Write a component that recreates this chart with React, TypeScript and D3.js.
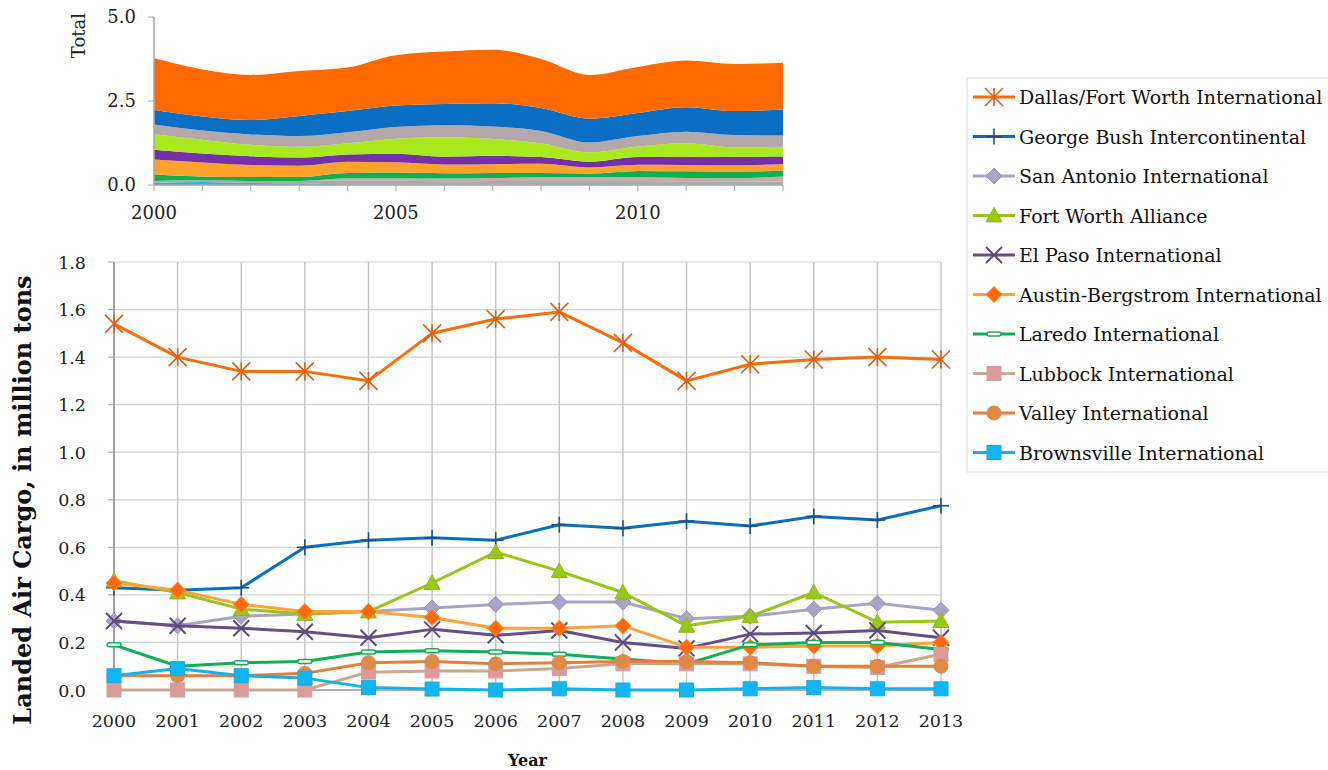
import * as d3 from 'd3'
import { FC, useMemo } from 'react'

const YEARS = [2000, 2001, 2002, 2003, 2004, 2005, 2006, 2007, 2008, 2009, 2010, 2011, 2012, 2013]

const AIRPORTS = [
  'Dallas/Fort Worth International',
  'George Bush Intercontinental',
  'San Antonio International',
  'Fort Worth Alliance',
  'El Paso International',
  'Austin-Bergstrom International',
  'Laredo International',
  'Lubbock International',
  'Valley International',
  'Brownsville International',
]

// landed cargo, million tons
const DFW = [1.54, 1.40, 1.34, 1.34, 1.30, 1.50, 1.56, 1.59, 1.46, 1.30, 1.37, 1.39, 1.40, 1.39]
const IAH = [0.43, 0.42, 0.43, 0.60, 0.63, 0.64, 0.63, 0.695, 0.68, 0.71, 0.69, 0.73, 0.715, 0.775]
const SAT = [0.29, 0.27, 0.31, 0.32, 0.33, 0.345, 0.36, 0.37, 0.37, 0.30, 0.31, 0.34, 0.365, 0.335]
const AFW = [0.46, 0.41, 0.34, 0.32, 0.33, 0.45, 0.58, 0.50, 0.41, 0.27, 0.31, 0.41, 0.285, 0.29]
const ELP = [0.29, 0.27, 0.26, 0.245, 0.22, 0.255, 0.23, 0.25, 0.20, 0.175, 0.235, 0.24, 0.25, 0.22]
const AUS = [0.45, 0.42, 0.36, 0.33, 0.33, 0.305, 0.26, 0.26, 0.27, 0.18, 0.18, 0.185, 0.185, 0.20]
const LRD = [0.19, 0.10, 0.115, 0.12, 0.16, 0.165, 0.16, 0.15, 0.13, 0.11, 0.19, 0.20, 0.20, 0.17]
const LBB = [0.0, 0.0, 0.0, 0.0, 0.075, 0.08, 0.08, 0.09, 0.11, 0.11, 0.11, 0.10, 0.095, 0.15]
const HRL = [0.06, 0.06, 0.06, 0.07, 0.115, 0.12, 0.11, 0.115, 0.12, 0.12, 0.115, 0.10, 0.10, 0.10]
const BRO = [0.06, 0.09, 0.06, 0.05, 0.01, 0.004, 0.0, 0.005, 0.0, 0.0, 0.005, 0.01, 0.005, 0.005]

const SERIES_VALUES = [DFW, IAH, SAT, AFW, ELP, AUS, LRD, LBB, HRL, BRO]

const Y_TICKS = [0, 0.2, 0.4, 0.6, 0.8, 1.0, 1.2, 1.4, 1.6, 1.8]
const TOTAL_TICKS = [0, 2.5, 5]
const TOTAL_YEAR_LABELS = [2000, 2005, 2010]

type Marker = 'asterisk' | 'plus' | 'diamond' | 'triangle' | 'x' | 'dash' | 'square' | 'circle'

const STYLES: { line: string; fill: string; stroke: string; marker: Marker; size: number; area: string }[] = [
  { line: '#ff6a0a', fill: 'none', stroke: '#d8601a', marker: 'asterisk', size: 9, area: '#ff6a00' },
  { line: '#0b6fc0', fill: 'none', stroke: '#1a4f8a', marker: 'plus', size: 8, area: '#0a6fc2' },
  { line: '#aaa4c4', fill: '#aaa4c4', stroke: '#9a94b6', marker: 'diamond', size: 8, area: '#b5a8a8' },
  { line: '#99c41a', fill: '#9ac81a', stroke: '#8ab616', marker: 'triangle', size: 8, area: '#aaea1c' },
  { line: '#654f86', fill: 'none', stroke: '#604a7b', marker: 'x', size: 8, area: '#7530a8' },
  { line: '#ffa338', fill: '#ff6a0a', stroke: '#ff8a20', marker: 'diamond', size: 8, area: '#ffa22c' },
  { line: '#12ae56', fill: '#ffffff', stroke: '#12ae56', marker: 'dash', size: 7, area: '#0db050' },
  { line: '#c9a88c', fill: '#dc9a9c', stroke: '#cfa39a', marker: 'square', size: 7, area: '#c8aaa6' },
  { line: '#e27f3a', fill: '#e08a48', stroke: '#d98a50', marker: 'circle', size: 7, area: '#a9aab0' },
  { line: '#12b2ee', fill: '#12b6f2', stroke: '#1aa8e0', marker: 'square', size: 7, area: '#20b4ee' },
]

const FONT = '"DejaVu Serif", "Liberation Serif", serif'

const MAIN = { left: 114, right: 941, top: 262, bottom: 690 }
const TOP = { left: 154, right: 783, top: 17, bottom: 185 }

const MarkerShape: FC<{ kind: Marker; x: number; y: number; s: number; fill: string; stroke: string }> = ({
  kind, x, y, s, fill, stroke,
}) => {
  if (kind === 'asterisk') {
    return (
      <g stroke={ stroke } strokeWidth={ 1.6 }>
        <line x1={ x - s } y1={ y - s } x2={ x + s } y2={ y + s } />
        <line x1={ x - s } y1={ y + s } x2={ x + s } y2={ y - s } />
        <line x1={ x } y1={ y - s } x2={ x } y2={ y + s } />
      </g>
    )
  }
  if (kind === 'plus') {
    return (
      <g stroke={ stroke } strokeWidth={ 1.6 }>
        <line x1={ x } y1={ y - s } x2={ x } y2={ y + s } />
        <line x1={ x - s } y1={ y } x2={ x + s } y2={ y } />
      </g>
    )
  }
  if (kind === 'x') {
    return (
      <g stroke={ stroke } strokeWidth={ 2 }>
        <line x1={ x - s } y1={ y - s } x2={ x + s } y2={ y + s } />
        <line x1={ x - s } y1={ y + s } x2={ x + s } y2={ y - s } />
      </g>
    )
  }
  if (kind === 'diamond') {
    return (
      <path
        d={ `M${x},${y - s}L${x + s},${y}L${x},${y + s}L${x - s},${y}Z` }
        fill={ fill } stroke={ stroke } strokeWidth={ 1 }
      />
    )
  }
  if (kind === 'triangle') {
    return (
      <path
        d={ `M${x},${y - s}L${x + s},${y + s * 0.8}L${x - s},${y + s * 0.8}Z` }
        fill={ fill } stroke={ stroke } strokeWidth={ 1 }
      />
    )
  }
  if (kind === 'dash') {
    return (
      <rect x={ x - s } y={ y - 2 } width={ s * 2 } height={ 4 } rx={ 2 }
        fill={ fill } stroke={ stroke } strokeWidth={ 1.5 } />
    )
  }
  if (kind === 'square') {
    return (
      <rect x={ x - s } y={ y - s } width={ s * 2 } height={ s * 2 }
        fill={ fill } stroke={ stroke } strokeWidth={ 1 } />
    )
  }
  return <circle cx={ x } cy={ y } r={ s } fill={ fill } stroke={ stroke } strokeWidth={ 1 } />
}

const App: FC = () => {
  const xScale = useMemo(
    () => d3.scaleLinear().domain([2000, 2013]).range([MAIN.left, MAIN.right]),
    []
  )
  const yScale = useMemo(
    () => d3.scaleLinear().domain([0, 1.8]).range([MAIN.bottom, MAIN.top]),
    []
  )
  const xTop = d3.scaleLinear().domain([2000, 2013]).range([TOP.left, TOP.right])
  const yTop = d3.scaleLinear().domain([0, 5]).range([TOP.bottom, TOP.top])

  // stacked total, bottom layer is the last airport in the legend
  const stacked = useMemo(() => {
    const rows = YEARS.map((yr, i) => {
      const row: Record<string, number> = { year: yr }
      AIRPORTS.forEach((a, k) => { row[a] = SERIES_VALUES[k][i] })
      return row
    })
    const keys = [...AIRPORTS].reverse()
    return d3.stack<Record<string, number>>().keys(keys)(rows)
  }, [])

  const area = d3
    .area<d3.SeriesPoint<Record<string, number>>>()
    .x((d) => xTop(d.data.year))
    .y0((d) => yTop(d[0]))
    .y1((d) => yTop(d[1]))
    .curve(d3.curveMonotoneX)

  const line = d3
    .line<number>()
    .x((_, i) => xScale(YEARS[i]))
    .y((d) => yScale(d))

  return (
    <svg width={ 1328 } height={ 770 } style={ { position: 'absolute', left: 0, top: 0 } }
      fontFamily={ FONT }>
      <rect width={ 1328 } height={ 770 } fill='#ffffff' />

      {/* top: stacked total */}
      <g>
        { stacked.map((layer) => {
          const k = AIRPORTS.indexOf(layer.key)
          return <path key={ layer.key } d={ area(layer) as string } fill={ STYLES[k].area } />
        }) }
        <line x1={ TOP.left } x2={ TOP.left } y1={ TOP.top } y2={ TOP.bottom } stroke='#a6a6a6' strokeWidth={ 1.5 } />
        <line x1={ TOP.left } x2={ TOP.right } y1={ TOP.bottom } y2={ TOP.bottom } stroke='#a6a6a6' strokeWidth={ 1.5 } />
        { TOTAL_TICKS.map((t) => (
          <g key={ t }>
            <line x1={ TOP.left - 6 } x2={ TOP.left } y1={ yTop(t) } y2={ yTop(t) } stroke='#a6a6a6' />
            <text x={ TOP.left - 18 } y={ yTop(t) + 6 } textAnchor='end' fontSize={ 18 } fill='#222'>
              { t.toFixed(1) }
            </text>
          </g>
        )) }
        { YEARS.map((yr) => (
          <line key={ yr } x1={ xTop(yr) } x2={ xTop(yr) } y1={ TOP.bottom } y2={ TOP.bottom + 6 } stroke='#a6a6a6' />
        )) }
        { TOTAL_YEAR_LABELS.map((yr) => (
          <text key={ yr } x={ xTop(yr) } y={ TOP.bottom + 34 } textAnchor='middle' fontSize={ 18 } fill='#222'>
            { yr }
          </text>
        )) }
        <text transform={ `translate(85,13) rotate(-90)` } textAnchor='end' fontSize={ 18 } fill='#222'>
          Total
        </text>
      </g>

      {/* main chart grid */}
      <g>
        { Y_TICKS.map((t) => (
          <g key={ t }>
            <line x1={ MAIN.left } x2={ MAIN.right } y1={ yScale(t) } y2={ yScale(t) } stroke='#d4d4d4' strokeWidth={ 1.2 } />
            <line x1={ MAIN.left - 6 } x2={ MAIN.left } y1={ yScale(t) } y2={ yScale(t) } stroke='#a0a0a0' />
            <text x={ MAIN.left - 28 } y={ yScale(t) + 6.5 } textAnchor='end' fontSize={ 17.5 } fill='#222'>
              { t.toFixed(1) }
            </text>
          </g>
        )) }
        { YEARS.map((yr) => (
          <g key={ yr }>
            <line x1={ xScale(yr) } x2={ xScale(yr) } y1={ MAIN.top } y2={ MAIN.bottom + 6 }
              stroke={ yr === 2000 ? '#a0a0a0' : '#c4c4c4' } strokeWidth={ yr === 2000 ? 2 : 1.4 } />
            <text x={ xScale(yr) } y={ MAIN.bottom + 37 } textAnchor='middle' fontSize={ 17.5 } fill='#222'>
              { yr }
            </text>
          </g>
        )) }
        <line x1={ MAIN.left } x2={ MAIN.right } y1={ MAIN.bottom } y2={ MAIN.bottom } stroke='#a0a0a0' strokeWidth={ 1.5 } />
      </g>

      {/* series */}
      { SERIES_VALUES.map((vals, k) => (
        <g key={ AIRPORTS[k] }>
          <path d={ line(vals) as string } fill='none' stroke={ STYLES[k].line } strokeWidth={ 3 } strokeLinejoin='round' />
          { vals.map((v, i) => (
            <MarkerShape key={ i } kind={ STYLES[k].marker } x={ xScale(YEARS[i]) } y={ yScale(v) }
              s={ STYLES[k].size } fill={ STYLES[k].fill } stroke={ STYLES[k].stroke } />
          )) }
        </g>
      )) }

      {/* axis titles */}
      <text transform={ `translate(31,500) rotate(-90)` } textAnchor='middle' fontSize={ 24 } fontWeight='bold' fill='#111'>
        Landed Air Cargo, in million tons
      </text>
      <text x={ (MAIN.left + MAIN.right) / 2 } y={ 766 } textAnchor='middle' fontSize={ 16 } fontWeight='bold' fill='#111'>
        Year
      </text>

      {/* legend */}
      <g>
        <rect x={ 967 } y={ 78 } width={ 400 } height={ 394 } fill='none' stroke='#d9d9d9' />
        { AIRPORTS.map((name, k) => {
          const y = 97 + k * 39.5
          return (
            <g key={ name }>
              <line x1={ 973 } x2={ 1015 } y1={ y } y2={ y } stroke={ STYLES[k].line } strokeWidth={ 3 } />
              <MarkerShape kind={ STYLES[k].marker } x={ 994 } y={ y } s={ STYLES[k].size }
                fill={ STYLES[k].fill } stroke={ STYLES[k].stroke } />
              <text x={ 1019 } y={ y + 7 } fontSize={ 19 } fill='#111'>{ name }</text>
            </g>
          )
        }) }
      </g>
    </svg>
  )
}

export default App
